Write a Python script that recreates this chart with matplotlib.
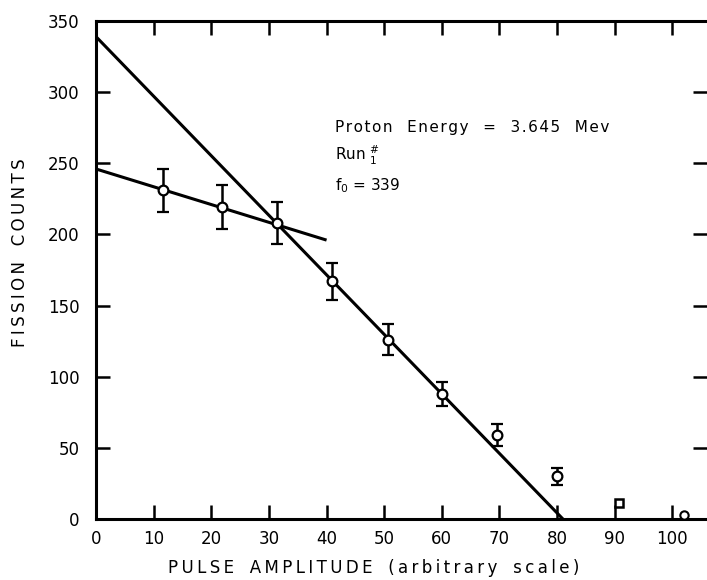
import matplotlib
matplotlib.use("Agg")
import matplotlib.pyplot as plt

plt.rcParams['font.family'] = ['DejaVu Sans']

# Measured fission counts with statistical error bars
pulse = [11.6, 21.9, 31.4, 41.0, 50.6, 60.0, 69.6, 80.0]
counts = [231, 219, 208, 167, 126, 88, 59, 30]
errors = [15, 15.5, 14.5, 13, 11, 8.5, 8, 6]

# Tail points without error bars
tail_sq_x, tail_sq_y = [90.8], [11]
tail_ci_x, tail_ci_y = [102.0], [2.5]

# Straight-line extrapolations
steep_x = [0, 81]
steep_y = [339, 0]
flat_x = [0, 40]
flat_y = [246, 196]

x_ticks = list(range(0, 101, 10))
y_ticks = list(range(0, 351, 50))


def spaced(s, gap="\u2009"):
    words = s.split(" ")
    return "   ".join(gap.join(w) for w in words)


fig = plt.figure(figsize=(7.07, 5.80), dpi=100)
ax = fig.add_axes([96 / 707, 61 / 580, 611 / 707, 498 / 580])

ax.plot(steep_x, steep_y, color="black", lw=2.2, solid_capstyle="butt", zorder=2)
ax.plot(flat_x, flat_y, color="black", lw=2.2, solid_capstyle="butt", zorder=2)

ax.errorbar(pulse, counts, yerr=errors, fmt="o", ms=7, mfc="white", mec="black",
            mew=1.6, ecolor="black", elinewidth=1.8, capsize=4, capthick=1.6, zorder=3)
ax.plot(tail_sq_x, tail_sq_y, "s", ms=6, mfc="white", mec="black", mew=1.8, zorder=3)
ax.plot(tail_ci_x, tail_ci_y, "o", ms=6, mfc="white", mec="black", mew=1.5, zorder=3)

ax.set_xlim(0, 106)
ax.set_ylim(0, 350)
ax.set_xticks(x_ticks)
ax.set_yticks(y_ticks)

for side in ("left", "bottom", "top"):
    ax.spines[side].set_linewidth(2.2)
ax.spines["right"].set_visible(False)

ax.tick_params(axis="both", which="both", direction="in", length=10, width=1.8,
               labelsize=12, top=True, right=True, colors="black")
ax.tick_params(axis="y", pad=12)
ax.tick_params(axis="x", pad=8)

ax.set_xlabel(spaced("PULSE AMPLITUDE (arbitrary scale)"), fontsize=12, va="center")
ax.xaxis.set_label_coords(0.455, -0.099)
ax.set_ylabel(spaced("FISSION COUNTS"), fontsize=12, va="center")
ax.yaxis.set_label_coords(-0.124, 0.534)

ax.text(41.5, 272, spaced("Proton Energy = 3.645 Mev", gap="\u200a"), fontsize=11)
ax.text(41.5, 252, "Run $\\mathregular{{}^{\\#}_{1}}$", fontsize=11)
ax.text(41.5, 231, "$\\mathregular{f_0}$ = 339", fontsize=11)

fig.savefig("out.png", dpi=100)
